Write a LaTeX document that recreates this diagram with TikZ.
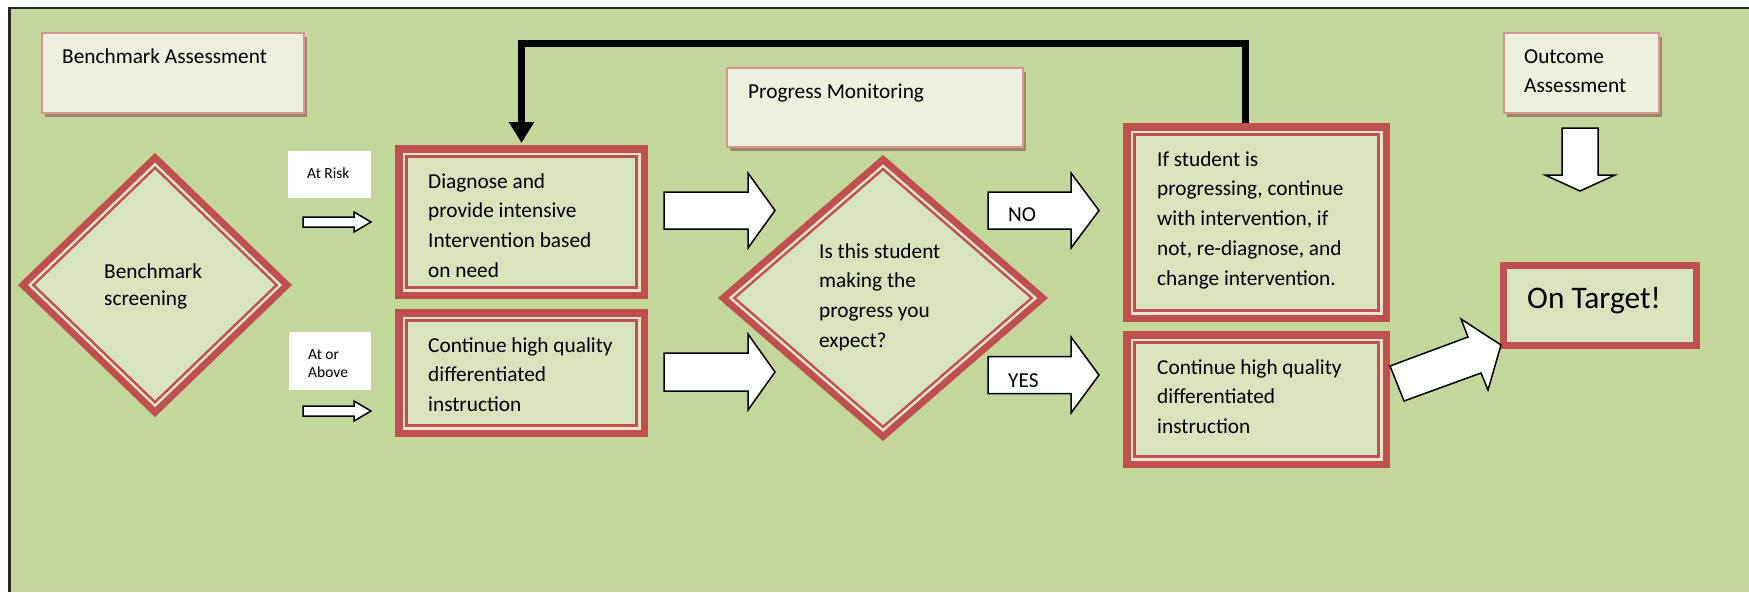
\documentclass[tikz,border=0pt]{standalone}
\usepackage{fontspec}
\setmainfont{Carlito}
\usetikzlibrary{arrows.meta,calc,shapes.geometric}
\definecolor{bggreen}{HTML}{C3D69B}
\definecolor{boxfill}{HTML}{D7E4BD}
\definecolor{lightfill}{HTML}{EBF1DE}
\definecolor{dred}{HTML}{C0504D}
\definecolor{gapc}{HTML}{E9E5CC}
\definecolor{pinkb}{HTML}{D99594}
\definecolor{shadowc}{HTML}{9A8A62}
\newcommand\mlines[1]{\vtop{\let\\\cr\halign{##\hfil\cr#1\crcr}}}
\newcommand\dbands[3]{%
  \pgfmathsetmacro\dd{10*sqrt((#2/10)^2+(#3/10)^2)}%
  \foreach \ins/\col in {7/gapc,9.5/dred,12/boxfill}{%
    \pgfmathsetmacro\ix{\ins*\dd/(#3)}%
    \pgfmathsetmacro\iy{\ins*\dd/(#2)}%
    \fill[\col] ([xshift=\ix pt]#1.west) -- ([yshift=-\iy pt]#1.north) -- ([xshift=-\ix pt]#1.east) -- ([yshift=\iy pt]#1.south) -- cycle;
  }}
\newcommand\harrow[6]{% x1, head base, tip, yc, shaft half, head half
  \draw[blockarrow] (#1,#4-#5) -- (#2,#4-#5) -- (#2,#4-#6) -- (#3,#4) -- (#2,#4+#6) -- (#2,#4+#5) -- (#1,#4+#5) -- cycle;}
\begin{document}
\begin{tikzpicture}[x=1pt,y=-1pt,
  txt/.style={inner sep=0, anchor=base west, font=\fontsize{21.3}{29.9}\selectfont},
  small/.style={txt, font=\fontsize{15.5}{18.3}\selectfont},
  lightbox/.style={rectangle, draw=pinkb, line width=2pt, fill=lightfill, inner sep=0,
    preaction={fill=shadowc, transform canvas={xshift=3pt,yshift=-4pt}}},
  labelbox/.style={rectangle, fill=white, inner sep=0},
  dblbox/.style={rectangle, inner sep=0, outer sep=0, fill=dred, path picture={
    \fill[gapc] ($(path picture bounding box.north west)+(7.5pt,-7.5pt)$) rectangle ($(path picture bounding box.south east)+(-7.5pt,7.5pt)$);
    \fill[dred] ($(path picture bounding box.north west)+(10.2pt,-10.2pt)$) rectangle ($(path picture bounding box.south east)+(-10.2pt,10.2pt)$);
    \fill[boxfill] ($(path picture bounding box.north west)+(12.8pt,-12.8pt)$) rectangle ($(path picture bounding box.south east)+(-12.8pt,12.8pt)$);
  }},
  dbldiamond/.style={diamond, inner sep=0, outer sep=0, fill=dred},
  targetbox/.style={rectangle, inner sep=0, draw=dred, line width=7pt, fill=boxfill},
  blockarrow/.style={draw=black, fill=white, line width=1.5pt, line join=miter},
  feedback/.style={draw=black, line width=7pt, line join=miter, -{Triangle[width=24pt,length=21pt]}}
]
\useasboundingbox (0,0) rectangle (1749,592);
\fill[white] (0,0) rectangle (1749,592);
\fill[bggreen] (9,8) rectangle (1749,592);
\draw[line width=2.5pt, black!85] (9.5,592) -- (9.5,8) -- (1749,8);

% header boxes
\node[lightbox, minimum width=262pt, minimum height=80pt] (ba) at (173,73) {};
\node[lightbox, minimum width=296pt, minimum height=79pt] (pm) at (875,107.5) {};
\node[lightbox, minimum width=155pt, minimum height=80pt] (oa) at (1581.5,73) {};

% diamonds
\node[dbldiamond, minimum width=274pt, minimum height=264pt] (d1) at (155,285) {};
\dbands{d1}{137}{132}
\node[dbldiamond, minimum width=330pt, minimum height=286pt] (d2) at (883,298) {};
\dbands{d2}{165}{143}

% double boxes
\node[dblbox, minimum width=253pt, minimum height=154pt] (diag) at (521.5,222) {};
\node[dblbox, minimum width=253pt, minimum height=128pt] (cont1) at (521.5,373) {};
\node[dblbox, minimum width=267pt, minimum height=199pt] (ifs) at (1256.5,222.5) {};
\node[dblbox, minimum width=267pt, minimum height=137pt] (cont2) at (1256.5,399.5) {};
\node[targetbox, minimum width=193pt, minimum height=80pt] (ot) at (1600,305.5) {};

% white label boxes
\node[labelbox, minimum width=83pt, minimum height=47pt] (atrisk) at (329.5,174.5) {};
\node[labelbox, minimum width=82pt, minimum height=58pt] (atabove) at (330,361) {};

% block arrows
\harrow{303}{354}{371}{222}{5}{10}
\harrow{303}{354}{371}{411}{5}{10}
\harrow{664}{748}{775}{210.5}{18.5}{37.5}
\harrow{664}{748}{775}{372}{19}{38}
\harrow{988}{1071}{1099}{210.5}{18.5}{37.5}
\harrow{988}{1071}{1099}{375}{18.5}{38}
\draw[blockarrow] (1562,128) -- (1598,128) -- (1598,175) -- (1615,175) -- (1580,191) -- (1545,175) -- (1562,175) -- cycle;
\draw[blockarrow] (1404,401) -- (1390,366) -- (1468,337) -- (1461,319) -- (1501,345) -- (1488,390) -- (1481,373) -- cycle;

% feedback connector
\coordinate (fbtop) at (0,43.5);
\draw[feedback] ([xshift=-11.5pt]ifs.north) |- (fbtop -| diag.north) -- ([yshift=2pt]diag.north);

% texts
\node[txt] (tba) at (62,63) {Benchmark Assessment};
\node[txt, font=\fontsize{21.3}{27}\selectfont] (td1) at (104,278) {\mlines{Benchmark\\screening}};
\node[small] (tar) at (307,178) {At Risk};
\node[small] (tab) at (308,359) {\mlines{At or\\Above}};
\node[txt] (tdiag) at (428,188) {\mlines{Diagnose and\\provide intensive\\Intervention based\\on need}};
\node[txt] (tc1) at (428,352) {\mlines{Continue high quality\\differentiated\\instruction}};
\node[txt] (tpm) at (748,98) {Progress Monitoring};
\node[txt] (td2) at (819,258) {\mlines{Is this student\\making the\\progress you\\expect?}};
\node[txt] (tno) at (1008,221) {NO};
\node[txt] (tyes) at (1008,387) {YES};
\node[txt] (tifs) at (1157,166) {\mlines{If student is\\progressing, continue\\with intervention, if\\not, re-diagnose, and\\change intervention.}};
\node[txt] (tc2) at (1157,374) {\mlines{Continue high quality\\differentiated\\instruction}};
\node[txt] (toa) at (1524,63) {\mlines{Outcome\\Assessment}};
\node[txt, font=\fontsize{31.4}{38}\selectfont] (tot) at (1527,308) {On Target!};
\end{tikzpicture}
\end{document}
